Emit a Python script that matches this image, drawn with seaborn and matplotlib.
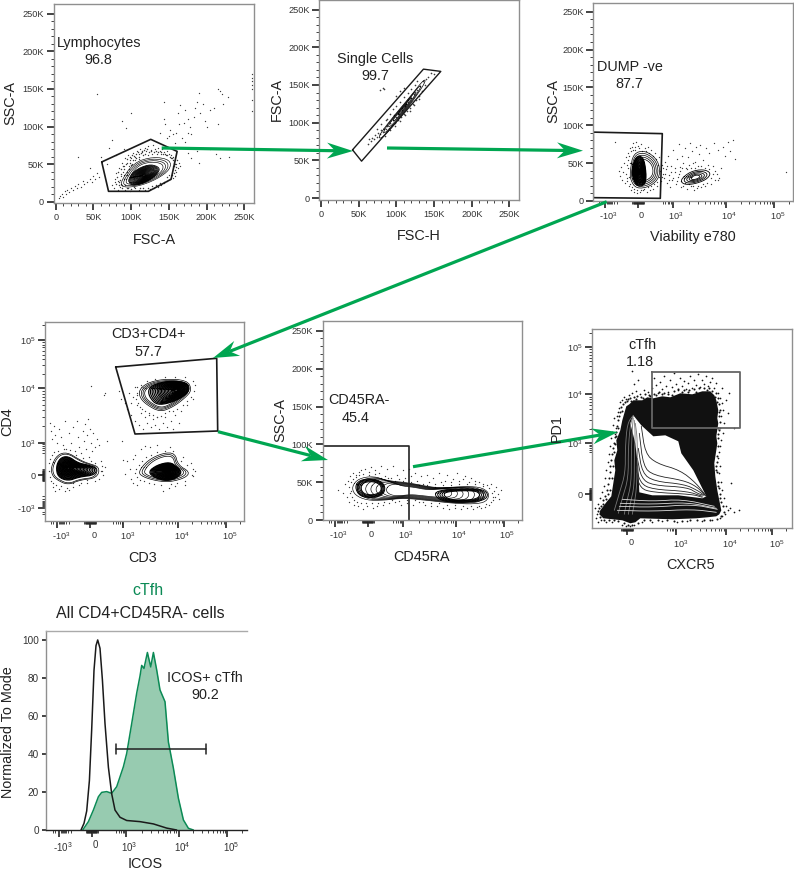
import numpy as np
import matplotlib
matplotlib.use("Agg")
import matplotlib.pyplot as plt
from matplotlib.transforms import ScaledTranslation
import seaborn as sns

W, H = 794, 872
K_TICKS = [0, 50, 100, 150, 200, 250]
K_LABELS = ["0", "50K", "100K", "150K", "200K", "250K"]
GREEN = "#00A651"
HIST_GREEN = "#0B8A55"
HIST_FILL = "#97CBB0"
TXT = "#222222"

# FSC/SSC panels are in thousands, log panels are in display channels
lymph_gate = [(61, 53), (126, 83), (161, 67), (153, 30), (123, 14), (70, 14)]
lymph_outer = [(85, 25), (103, 52), (129, 60), (152, 56), (152, 43), (134, 30), (111, 21), (90, 19)]
lymph_inner = [(96, 27), (103, 41), (123, 50), (136, 47), (138, 41), (127, 30), (112, 23), (101, 22)]
lymph_dots = [(4, 5), (6, 8), (8, 11), (10, 7), (12, 14), (15, 16), (14, 10), (18, 13), (20, 18), (23, 16),
              (25, 21), (28, 19), (30, 24), (33, 20), (36, 28), (38, 24), (42, 26), (45, 31), (48, 27), (50, 35),
              (52, 30), (55, 38), (58, 33), (55, 143), (30, 59), (45, 45), (60, 60), (70, 72), (75, 82), (88, 107),
              (93, 98), (100, 118), (90, 70), (80, 62), (68, 50), (143, 133), (145, 103), (143, 110), (150, 88),
              (152, 95), (160, 92), (162, 118), (163, 103), (165, 128), (170, 105), (172, 122), (175, 110),
              (178, 100), (180, 90), (168, 85), (172, 80), (175, 92), (183, 113), (185, 125), (188, 133),
              (190, 145), (192, 118), (195, 130), (198, 108), (200, 100), (205, 122), (210, 125), (215, 150),
              (218, 147), (220, 143), (222, 130), (228, 139), (215, 103), (205, 70), (218, 58), (212, 63),
              (230, 60), (190, 52), (175, 65), (180, 58), (155, 90), (147, 85), (138, 92), (158, 78), (165, 72),
              (188, 68), (196, 72), (260, 170), (260, 165), (260, 160), (260, 155), (260, 150), (260, 135), (260, 120),
              (75, 22), (78, 30), (80, 38), (77, 18), (82, 16), (84, 45), (86, 34), (88, 52), (90, 48), (92, 58),
              (94, 40), (96, 62), (98, 55), (100, 58), (102, 65), (105, 60), (108, 68), (110, 63), (112, 70),
              (115, 66), (118, 72), (120, 67), (123, 74), (126, 69), (129, 75), (132, 70), (135, 72), (138, 68),
              (141, 70), (144, 66), (147, 68), (150, 64), (153, 62), (156, 60), (158, 55), (160, 50), (162, 45),
              (160, 40), (163, 52), (165, 48), (158, 35), (155, 32), (150, 36), (148, 28), (143, 25), (140, 22),
              (135, 20), (130, 18), (125, 17), (118, 16), (110, 16), (105, 18), (98, 15), (92, 16), (85, 20),
              (79, 26), (83, 28), (87, 24), (89, 40), (93, 30), (91, 36), (97, 48), (95, 52), (101, 50), (105, 55),
              (110, 57), (155, 47), (157, 52), (153, 58), (146, 62), (140, 64), (134, 64), (128, 63), (122, 62)]
lymph_halo = [(80, 24), (81, 33), (83, 40), (84, 22), (85, 29), (86, 43), (87, 37), (88, 19), (89, 47), (90, 31),
              (91, 43), (92, 23), (93, 50), (94, 36), (95, 57), (96, 19), (97, 44), (98, 60), (99, 52), (100, 49),
              (101, 62), (103, 56), (104, 61), (106, 64), (107, 58), (109, 66), (111, 60), (113, 65), (114, 68),
              (116, 62), (117, 69), (119, 64), (121, 70), (124, 66), (127, 67), (130, 66), (133, 68), (136, 66),
              (139, 66), (142, 64), (145, 64), (148, 62), (151, 60), (154, 58), (156, 55), (158, 50), (159, 46),
              (158, 42), (157, 38), (154, 36), (152, 30), (147, 33), (144, 27), (138, 25), (133, 23), (128, 21),
              (122, 19), (116, 18), (112, 18), (104, 20), (100, 17), (95, 18), (88, 22), (84, 26), (157, 48), (161, 55)]

single_gate = [(42, 64), (136, 171), (159, 168), (54, 49)]
single_outer = [(76, 82), (96, 108), (118, 134), (137, 158), (139, 154), (120, 126), (100, 100), (80, 78)]
single_dots = [(62, 72), (64, 78), (66, 76), (68, 80), (70, 79), (72, 84), (74, 81), (76, 86), (78, 85), (80, 90),
               (82, 87), (84, 92), (86, 91), (88, 96), (90, 93), (92, 100), (94, 97), (96, 104), (98, 100),
               (100, 108), (102, 104), (104, 112), (106, 108), (108, 117), (110, 112), (112, 122), (114, 116),
               (116, 127), (118, 120), (120, 133), (122, 125), (124, 138), (126, 130), (128, 143), (130, 136),
               (132, 148), (134, 142), (136, 155), (138, 150), (140, 158), (142, 160), (88, 105), (92, 112),
               (95, 118), (100, 122), (105, 128), (110, 134), (105, 102), (112, 110), (118, 116), (124, 124),
               (130, 132), (85, 83), (92, 90), (98, 96), (115, 140), (120, 145), (125, 150), (128, 155),
               (84, 145), (82, 146), (78, 144), (100, 135), (105, 142), (110, 146), (150, 165), (146, 166), (75, 92),
               (80, 98), (86, 103), (113, 125), (116, 130), (108, 120), (103, 115), (97, 110)]

dump_gate = [(0, 91), (69, 89), (67, 3.5), (0, 4.4)]
dump_outer = [(37, 41), (40, 63), (52, 67), (65, 54), (67, 32), (57, 19), (43, 16), (37, 28)]
dump_inner = [(38, 37), (42, 59), (50, 59), (53, 37), (52, 21), (43, 19)]
dead_outer = [(87, 28), (97, 39), (110, 42), (118, 37), (113, 28), (100, 22), (90, 22)]
dump_dots = [(22, 78), (26, 40), (27, 33), (28, 45), (29, 28), (30, 38), (31, 50), (32, 24), (33, 58), (34, 30),
             (35, 64), (35, 44), (36, 20), (37, 70), (38, 14), (39, 72), (40, 76), (41, 12), (42, 68), (43, 78),
             (44, 10), (45, 73), (47, 12), (48, 75), (50, 14), (52, 70), (54, 12), (55, 72), (57, 15), (58, 68),
             (60, 16), (62, 63), (64, 20), (66, 58), (68, 26), (69, 48), (70, 36), (71, 30), (72, 52), (73, 42),
             (74, 24), (75, 60), (76, 35), (77, 18), (78, 46), (79, 28), (80, 68), (82, 38), (83, 22), (84, 55),
             (85, 32), (86, 75), (87, 45), (88, 18), (89, 60), (90, 50), (91, 30), (92, 70), (93, 44), (94, 16),
             (95, 58), (96, 48), (97, 76), (98, 20), (99, 66), (100, 50), (101, 14), (102, 52), (103, 72), (104, 17),
             (105, 46), (106, 62), (107, 74), (108, 18), (110, 54), (112, 20), (113, 70), (115, 48), (116, 64),
             (118, 22), (120, 46), (121, 76), (122, 28), (124, 36), (125, 68), (126, 30), (128, 44), (130, 72),
             (132, 60), (135, 78), (137, 66), (140, 80), (142, 55), (193, 38)]
dump_halo = [(33, 36), (34, 48), (34, 26), (35, 54), (36, 32), (36, 60), (37, 22), (37, 50), (38, 66), (39, 18), (39, 30),
             (40, 68), (41, 16), (42, 72), (44, 15), (46, 70), (48, 14), (49, 66), (51, 16), (53, 66), (55, 18),
             (56, 64), (58, 20), (60, 60), (61, 22), (63, 55), (64, 25), (65, 48), (66, 32), (67, 40), (69, 32), (70, 44),
             (72, 36), (74, 46), (76, 28), (78, 38), (80, 30), (82, 44), (84, 26), (86, 36), (87, 40), (88, 26),
             (89, 44), (90, 20), (92, 24), (94, 42), (96, 22), (98, 44), (100, 20), (102, 44), (105, 20), (108, 46),
             (110, 22), (112, 44), (114, 24), (116, 42), (118, 30), (120, 36), (122, 40), (125, 28)]

cd4_gate = [(70.7, 154), (171.7, 162.7), (172.7, 90), (90, 87)]
cd4_top_outer = [(94, 131), (102, 138), (118, 142), (142, 141), (147, 131), (140, 123), (128, 114), (115, 109), (102, 116), (95, 123)]
cd4_top_inner = [(103, 131), (108, 136), (122, 140), (142, 139), (145, 131), (138, 124), (125, 118), (112, 116), (105, 123)]
dn_outer = [(6, 54), (12, 66), (22, 69), (35, 61), (42, 58), (55, 54), (52, 43), (35, 41), (23, 36), (12, 41), (7, 46)]
dn_inner = [(11, 54), (15, 63), (23, 65), (33, 58), (43, 56), (52, 53), (50, 46), (34, 44), (23, 40), (13, 44)]
cd8_outer = [(93, 49), (103, 61), (118, 68), (130, 68), (133, 56), (145, 49), (140, 43), (125, 39), (112, 40), (98, 44)]
cd8_inner = [(103, 49), (112, 56), (125, 59), (132, 54), (137, 49), (132, 43), (122, 40), (110, 43)]
cd4_dots = [(5, 98), (6, 90), (7, 82), (9, 95), (10, 86), (12, 78), (14, 92), (16, 84), (18, 76), (20, 100), (21, 72),
            (24, 88), (26, 78), (28, 94), (30, 70), (32, 100), (33, 84), (34, 74), (36, 68), (38, 90), (39, 80),
            (40, 97), (41, 72), (42, 86), (43, 102), (44, 64), (45, 92), (46, 78), (47, 70), (48, 88), (50, 74),
            (52, 82), (54, 76), (56, 60), (60, 128), (59, 126), (62, 80), (46, 135), (8, 34), (10, 30), (14, 32),
            (20, 30), (24, 31), (28, 34), (34, 36), (42, 38), (50, 40), (58, 46), (60, 54), (57, 50), (77, 80),
            (82, 60), (85, 52), (80, 47), (78, 61), (88, 62), (90, 66), (86, 42), (88, 38), (92, 36), (96, 72),
            (100, 75), (105, 74), (112, 76), (125, 74), (118, 30), (124, 33), (130, 35), (140, 36), (148, 45),
            (150, 50), (146, 58), (138, 64), (74, 130), (76, 122), (80, 118), (82, 112), (84, 128), (86, 106),
            (88, 124), (90, 100), (92, 116), (94, 96), (96, 108), (98, 92), (100, 104), (102, 98), (104, 106),
            (106, 94), (108, 102), (110, 96), (112, 104), (114, 92), (118, 98), (120, 104), (122, 94), (126, 100),
            (128, 92), (130, 106), (134, 98), (136, 110), (142, 116), (148, 122), (90, 134), (86, 118), (92, 126)]
cd4_halo = [(4, 50), (4, 58), (5, 44), (5, 62), (6, 40), (7, 66), (8, 38), (9, 69), (11, 36), (13, 70), (16, 35), (19, 72),
            (22, 33), (25, 71), (28, 38), (31, 66), (36, 38), (38, 63), (42, 41), (46, 60), (50, 58), (54, 42),
            (56, 50), (57, 55), (90, 48), (91, 52), (92, 44), (94, 56), (95, 41), (97, 60), (99, 40), (101, 64),
            (104, 38), (106, 66), (109, 37), (112, 69), (116, 36), (120, 70), (126, 37), (128, 70), (132, 38),
            (136, 60), (140, 40), (142, 56), (147, 46), (148, 52), (92, 128), (91, 122), (92, 134), (93, 118),
            (95, 114), (97, 112), (100, 110), (104, 108), (108, 106), (112, 104), (116, 105), (120, 108), (124, 110),
            (128, 110), (132, 112), (138, 116), (142, 120), (146, 124), (149, 130), (150, 136), (148, 140),
            (140, 144), (130, 144), (120, 144), (110, 142), (102, 140), (96, 136)]

ra_gate_x = [0, 86.7, 86.7]
ra_gate_y = [98, 98, 0]
ra_outer = [(29, 44), (36, 55), (51, 58), (64, 52), (87, 49), (114, 42), (137, 44), (157, 44), (167, 36), (164, 24),
            (151, 21), (131, 22), (104, 26), (81, 29), (61, 26), (44, 26), (32, 33)]
ra_left_lobe = [(32, 44), (37, 53), (51, 55), (62, 48), (62, 35), (51, 29), (37, 31)]
ra_right_lobe = [(111, 33), (117, 40), (157, 42), (166, 35), (162, 26), (144, 23), (121, 24)]
ra_dots = [(15, 40), (20, 36), (22, 48), (24, 30), (25, 52), (26, 24), (27, 58), (28, 38), (30, 62), (31, 20),
           (33, 60), (35, 18), (36, 64), (38, 66), (40, 15), (42, 68), (44, 18), (46, 64), (48, 70), (50, 16),
           (52, 66), (54, 18), (56, 62), (58, 72), (60, 20), (62, 58), (64, 68), (66, 22), (68, 56), (70, 72),
           (72, 24), (74, 60), (76, 54), (78, 20), (80, 66), (82, 56), (84, 23), (86, 68), (88, 58), (90, 20),
           (92, 62), (94, 52), (96, 24), (98, 58), (100, 48), (102, 20), (104, 60), (106, 50), (108, 18), (110, 56),
           (112, 48), (114, 18), (116, 62), (118, 50), (120, 16), (122, 52), (124, 60), (126, 15), (128, 50),
           (130, 54), (132, 16), (134, 62), (136, 52), (138, 14), (140, 54), (142, 58), (144, 16), (146, 50),
           (148, 56), (150, 14), (152, 52), (154, 17), (156, 50), (158, 16), (160, 48), (162, 17), (164, 46),
           (166, 20), (168, 48), (170, 26), (171, 38), (172, 30), (173, 44), (175, 34), (176, 28), (178, 40)]
ra_halo = [(26, 44), (27, 36), (28, 50), (29, 30), (30, 54), (31, 27), (33, 57), (34, 24), (36, 60), (38, 22), (40, 61),
           (43, 22), (46, 60), (49, 22), (52, 61), (55, 22), (58, 56), (61, 24), (65, 55), (69, 26), (72, 52),
           (76, 25), (80, 52), (84, 26), (88, 50), (92, 26), (96, 46), (100, 24), (104, 46), (108, 22), (112, 44),
           (116, 22), (120, 46), (124, 20), (128, 46), (132, 20), (136, 47), (140, 19), (144, 47), (148, 18),
           (152, 47), (156, 19), (160, 45), (163, 21), (166, 42), (168, 24), (169, 36), (170, 30)]

tfh_mass = [(28, 98), (30, 108), (34, 122), (37, 124), (41, 128), (50, 128), (55, 131), (61, 130), (70, 132), (78, 131),
            (88, 135), (100, 134), (110, 137), (118, 137), (122, 133), (124, 128), (126, 118), (125, 110), (126, 105),
            (124, 92), (125, 85), (124, 78), (122, 65), (123, 52), (125, 38), (127, 28), (129, 18), (127, 14),
            (124, 12), (115, 11), (104, 10), (80, 9), (48, 10), (43, 6), (38, 5), (30, 8), (11, 10), (7, 14), (8, 18),
            (14, 26), (19, 32), (21, 45), (23, 58), (22, 68), (25, 78), (24, 88)]
tfh_hole = [(41, 113), (49, 103), (61, 92), (73, 93), (86, 87), (89, 75), (101, 58), (114, 32), (110, 30), (86, 33),
            (60, 33), (47, 36), (46, 60), (43, 85), (38, 105)]
tfh_gate_x = [60, 147.7, 147.7, 60, 60]
tfh_gate_y = [156, 156, 100, 100, 156]
tfh_curves = [
    [(49, 102), (53, 75), (64, 65), (88, 58), (104, 45), (114, 32)],
    [(47, 95), (51, 62), (61, 53), (91, 48), (104, 42), (113, 33)],
    [(46, 80), (50, 55), (62, 47), (92, 44), (105, 38), (112, 33)],
    [(45, 70), (49, 50), (60, 43), (95, 41), (105, 35), (111, 33)],
    [(44, 62), (48, 45), (60, 39), (95, 37), (110, 32)],
    [(44, 55), (48, 40), (60, 36), (100, 34), (110, 31)],
]
tfh_spike_lines = [
    [(41, 113), (35, 105), (33, 80), (33, 55), (27, 35), (22, 18)],
    [(41, 112), (38, 104), (36, 80), (36, 50), (30, 30), (26, 15)],
    [(41, 110), (40, 100), (39, 75), (39, 45), (34, 25), (32, 14)],
    [(42, 108), (43, 95), (42, 70), (42, 42), (38, 25), (36, 14)],
    [(43, 105), (45, 90), (45, 60), (44, 38), (42, 25), (40, 14)],
]
tfh_bar_lines = [
    [(30, 29), (60, 27), (90, 29), (122, 22)],
    [(28, 25), (60, 24), (95, 26), (124, 20)],
    [(27, 22), (60, 21), (100, 24), (125, 19)],
    [(25, 18), (60, 17), (100, 19), (124, 16)],
]
tfh_dots = [(5, 14), (3, 20), (6, 24), (4, 10), (8, 30), (10, 36), (12, 42), (13, 50), (14, 58), (16, 66), (17, 74),
            (18, 82), (19, 90), (20, 96), (21, 103), (22, 110), (23, 94), (24, 100), (25, 112), (26, 116), (27, 120),
            (28, 126), (30, 128), (32, 131), (34, 129), (37, 133), (40, 135), (44, 137), (48, 134), (52, 138),
            (56, 136), (46, 148), (40, 157), (42, 144), (60, 140), (62, 150), (64, 143), (66, 135), (68, 146),
            (70, 139), (72, 152), (74, 142), (76, 136), (78, 148), (80, 141), (82, 155), (84, 144), (86, 138),
            (88, 150), (90, 142), (92, 147), (94, 139), (96, 145), (98, 152), (100, 140), (102, 148), (104, 143),
            (106, 154), (108, 141), (110, 148), (112, 144), (114, 152), (116, 142), (118, 146), (120, 150),
            (122, 140), (124, 145), (126, 135), (128, 130), (130, 125), (131, 118), (129, 112), (132, 105), (128, 100),
            (131, 95), (129, 88), (128, 82), (127, 76), (126, 70), (128, 62), (127, 55), (129, 46), (130, 38),
            (132, 30), (134, 22), (136, 18), (133, 14), (130, 12), (128, 10), (142, 16), (147, 18), (139, 45),
            (138, 20), (142, 100), (136, 115), (134, 128), (137, 135), (130, 140), (20, 6), (14, 6), (9, 8), (6, 6),
            (50, 6), (60, 6), (70, 7), (85, 6), (95, 7), (110, 7), (120, 8), (30, 3), (34, 2), (38, 2), (42, 3),
            (12, 16), (16, 22), (18, 28), (24, 50), (25, 68), (26, 90)]
tfh_fringe = [(9, 22), (11, 28), (13, 32), (15, 38), (16, 44), (17, 50), (18, 56), (18, 62), (19, 68), (20, 74), (21, 80),
              (22, 85), (23, 91), (24, 96), (25, 102), (26, 108), (27, 112), (28, 116), (29, 121), (31, 124), (33, 126),
              (35, 127), (38, 130), (42, 131), (45, 132), (49, 131), (53, 134), (57, 133), (62, 134), (67, 136),
              (72, 135), (76, 134), (82, 137), (86, 139), (92, 138), (97, 138), (102, 139), (107, 140), (112, 140),
              (117, 140), (120, 137), (124, 135), (126, 130), (127, 124), (128, 118), (127, 112), (128, 106),
              (127, 98), (126, 90), (126, 82), (125, 72), (124, 62), (125, 56), (126, 46), (127, 40), (128, 34),
              (129, 26), (131, 22), (132, 16), (129, 12), (125, 9), (118, 8), (112, 8), (105, 8), (98, 8), (90, 7),
              (82, 7), (75, 8), (66, 8), (58, 8), (52, 8), (46, 5), (40, 3), (36, 3), (32, 5), (26, 7), (22, 8),
              (17, 8), (12, 8), (8, 11), (6, 17), (9, 16), (7, 20), (11, 24), (14, 29), (16, 34), (18, 38), (20, 50),
              (21, 62), (22, 76), (23, 84), (24, 92), (26, 100), (30, 117), (36, 129), (39, 127), (44, 129),
              (51, 130), (58, 132), (64, 133), (70, 134), (80, 133), (90, 136), (96, 136), (104, 136), (115, 138),
              (123, 131), (125, 126), (127, 116), (126, 100), (126, 94), (125, 66), (124, 58), (126, 42), (128, 30)]

hist_black_x = [35.3, 38.3, 41, 43.7, 46, 48.3, 50.3, 52, 54.3, 56.7, 59.3, 62.7, 66, 69.3, 74.3, 81, 94.3, 107.7, 121, 131]
hist_black_y = [0, 3.5, 10, 26, 53, 84, 97, 100, 95.6, 79, 56, 33, 19, 10.5, 6.7, 5, 4.4, 3.2, 1, 0]
hist_tfh_x = [37, 42.7, 47.7, 52.7, 56, 61, 66, 71, 77.7, 81, 86, 91, 94.3, 96, 98.3, 101.7, 105, 107.7, 111, 114.3,
              119.3, 122.7, 127.7, 132.7, 137.7, 142.7, 147.7]
hist_tfh_y = [0, 4.4, 10.5, 17.5, 19.8, 20.2, 19.3, 22.8, 33.3, 40.3, 56, 72, 81, 86.6, 85, 93.4, 85.8, 93.4, 84.2,
              73.7, 67.5, 46.3, 32.5, 16.7, 5.3, 0.9, 0]
icos_gate_x = [70, 160.3]
icos_gate_y = [42.5, 42.5]

DENSE = [0.94, 0.88, 0.82, 0.76, 0.7, 0.65, 0.6, 0.55, 0.5, 0.45, 0.4, 0.35, 0.3, 0.25, 0.2, 0.16, 0.12, 0.08]


def px_axes(fig, left, top, right, bottom):
    ax = fig.add_axes([left / W, 1 - bottom / H, (right - left) / W, (bottom - top) / H])
    for s in ax.spines.values():
        s.set_color("#8f8f8f")
        s.set_linewidth(1.0)
    ax.tick_params(which="major", length=5, width=1.1, color="#111111", labelsize=6.6, labelcolor="#333333", pad=2)
    ax.tick_params(which="minor", length=2.5, width=0.6, color="#222222")
    return ax


def linear_ticks(axis):
    axis.set_ticks(K_TICKS)
    axis.set_ticklabels(K_LABELS)
    axis.set_ticks(list(range(10, 260, 10)), minor=True)


def biex_ticks(axis, neg, zero, t3, t4, t5, has_neg=True):
    ticks = ([neg] if has_neg else []) + [zero, t3, t4, t5]
    labels = (["-$\\mathregular{10^3}$"] if has_neg else []) + ["0", "$\\mathregular{10^3}$", "$\\mathregular{10^4}$", "$\\mathregular{10^5}$"]
    axis.set_ticks(ticks)
    axis.set_ticklabels(labels)
    minors = []
    for lo, hi in [(t3, t4), (t4, t5)]:
        minors += [lo + np.log10(m) * (hi - lo) for m in range(2, 10)]
    minors += [t5 + np.log10(m) * (t5 - t4) for m in (2, 3)]
    minors += [t3 - np.log10(10 / m) * (t4 - t3) * 0.6 for m in (5, 6, 7, 8, 9)]
    minors += [zero + d for d in (-6, -5, -4.5, -4, -3.5, -3, -2.5, -2, -1.5, -1, -0.5, 0.5, 1, 1.5, 2, 2.5, 3, 3.5, 4, 4.5, 5, 6)]
    if has_neg:
        minors += [neg + d for d in (-6, -4, 2, 3, 4, 5, 6, 7, 9, 12)]
    axis.set_ticks(minors, minor=True)


def shift_labels(labels, dx=0, dy=0):
    fig = labels[0].figure
    for lab in labels:
        lab.set_transform(lab.get_transform() + ScaledTranslation(dx / 100, dy / 100, fig.dpi_scale_trans))


def smooth_ring(pts, closed=True, passes=2):
    # corner cutting so that the read-off outlines look like contour lines
    p = np.array(pts, dtype=float)
    for _ in range(passes):
        if closed:
            q = np.roll(p, -1, axis=0)
            p = np.column_stack([0.75 * p + 0.25 * q, 0.25 * p + 0.75 * q]).reshape(-1, 2)
        else:
            a, b = p[:-1], p[1:]
            mid = np.column_stack([0.75 * a + 0.25 * b, 0.25 * a + 0.75 * b]).reshape(-1, 2)
            p = np.vstack([p[0], mid, p[-1]])
    if closed:
        p = np.vstack([p, p[0]])
    return p


def line(ax, pts, color="black", lw=0.6, closed=False, smooth=True):
    p = smooth_ring(pts, closed) if smooth else np.array(pts, dtype=float)
    sns.lineplot(x=p[:, 0], y=p[:, 1], sort=False, estimator=None, color=color, linewidth=lw, ax=ax, legend=False)


def rings(ax, outline, scales, center=None, lw=0.5, color="black"):
    o = np.array(outline, dtype=float)
    c = o.mean(axis=0) if center is None else np.array(center, dtype=float)
    line(ax, o, color=color, lw=lw, closed=True)
    for s in scales:
        line(ax, c + s * (o - c), color=color, lw=lw, closed=True)


def dots(ax, pts, color="#3a3a3a", size=0.9):
    p = np.array(pts, dtype=float)
    sns.scatterplot(x=p[:, 0], y=p[:, 1], s=size, color=color, linewidth=0, ax=ax, legend=False)


def gate(ax, pts, color="#1a1a1a", lw=1.2):
    p = np.array(list(pts) + [pts[0]], dtype=float)
    sns.lineplot(x=p[:, 0], y=p[:, 1], sort=False, estimator=None, color=color, linewidth=lw, ax=ax, legend=False)


def finish(ax, xl, yl):
    ax.set_xlim(*xl)
    ax.set_ylim(*yl)
    ax.set_xlabel("")
    ax.set_ylabel("")


sns.set_theme(style="ticks")
plt.rcParams["font.family"] = ["Liberation Sans", "DejaVu Sans"]
plt.rcParams["mathtext.fontset"] = "custom"
plt.rcParams["mathtext.rm"] = "Liberation Sans"

fig = plt.figure(figsize=(W / 100, H / 100), dpi=100, facecolor="white")

# Lymphocytes
ax = px_axes(fig, 53.5, 4.5, 254, 203)
dots(ax, lymph_dots)
dots(ax, lymph_halo, size=1.1)
rings(ax, lymph_outer, [0.9, 0.8, 0.7], lw=0.45)
rings(ax, lymph_inner, DENSE, lw=0.6)
gate(ax, lymph_gate)
linear_ticks(ax.xaxis)
linear_ticks(ax.yaxis)
finish(ax, (-3, 263), (-1.5, 262))

# Single cells
ax = px_axes(fig, 319.3, 0.5, 519.3, 200)
dots(ax, single_dots, size=1.4)
rings(ax, single_outer, [0.8, 0.6, 0.4, 0.2], lw=0.5)
gate(ax, single_gate, lw=1.0)
linear_ticks(ax.xaxis)
linear_ticks(ax.yaxis)
finish(ax, (-2, 263), (-2.5, 262))

# Dump
ax = px_axes(fig, 593.3, 2.7, 793.3, 201)
dots(ax, dump_dots)
dots(ax, dump_halo)
rings(ax, dump_outer, [0.9, 0.8, 0.7, 0.6], lw=0.5)
rings(ax, dump_inner, DENSE, lw=0.8)
rings(ax, dead_outer, [0.8, 0.62, 0.45, 0.3], lw=0.6)
gate(ax, dump_gate)
biex_ticks(ax.xaxis, 11.7, 45, 79.3, 133, 181)
linear_ticks(ax.yaxis)
finish(ax, (0, 200), (0, 262))
shift_labels(ax.get_xticklabels(), dx=3)

# CD3 / CD4
ax = px_axes(fig, 45, 321.7, 244.3, 521)
dots(ax, cd4_dots)
dots(ax, cd4_halo)
rings(ax, cd4_top_outer, [0.92, 0.85, 0.78], lw=0.5)
rings(ax, cd4_top_inner, DENSE, center=(132, 131), lw=0.85)
rings(ax, dn_outer, [0.93], lw=0.5)
rings(ax, dn_inner, DENSE, center=(23, 53), lw=0.85)
rings(ax, cd8_outer, [0.9, 0.8], lw=0.5)
rings(ax, cd8_inner, DENSE, center=(123, 50), lw=0.85)
gate(ax, cd4_gate)
biex_ticks(ax.xaxis, 12.3, 45, 78.3, 132.7, 180.7)
biex_ticks(ax.yaxis, 12.7, 46, 78.3, 132.7, 181)
finish(ax, (0, 199.3), (0, 199.3))
shift_labels(ax.get_xticklabels(), dx=4)

# CD45RA
ax = px_axes(fig, 322.7, 321, 522.3, 520)
dots(ax, ra_dots)
dots(ax, ra_halo)
rings(ax, ra_outer, [0.93, 0.87, 0.8, 0.72, 0.64, 0.56, 0.48], center=(95, 38), lw=0.45)
rings(ax, ra_left_lobe, [0.93, 0.86, 0.78, 0.7], lw=0.7, center=(50, 42))
rings(ax, ra_right_lobe, [0.92, 0.84, 0.76, 0.68], lw=0.7, center=(140, 33))
line(ax, list(zip(ra_gate_x, ra_gate_y)), color="#222222", lw=1.2, smooth=False)
biex_ticks(ax.xaxis, 12.3, 45, 80, 133, 181)
linear_ticks(ax.yaxis)
finish(ax, (0, 199.6), (0, 263))
shift_labels(ax.get_xticklabels(), dx=3)

# PD1 / CXCR5
ax = px_axes(fig, 592.3, 329, 791.7, 528.3)
mass = np.array(tfh_mass)
hole = np.array(tfh_hole)
ax.fill(mass[:, 0], mass[:, 1], color="#111111", lw=0)
ax.fill(hole[:, 0], hole[:, 1], color="white", lw=0)
dots(ax, tfh_dots, color="#111111", size=1.5)
dots(ax, tfh_fringe, color="#111111", size=2.2)
for c in tfh_curves:
    line(ax, c, color="#222222", lw=0.6)
for c in tfh_spike_lines:
    line(ax, c, color="#777777", lw=0.6)
for c in tfh_bar_lines:
    line(ax, c, color="#dddddd", lw=0.6)
line(ax, list(zip(tfh_gate_x, tfh_gate_y)), color="#666666", lw=1.3, smooth=False)
biex_ticks(ax.xaxis, 0, 35, 84, 134, 180, has_neg=False)
biex_ticks(ax.yaxis, 0, 34, 85, 134, 181, has_neg=False)
finish(ax, (0, 199.4), (0, 199.3))
shift_labels(ax.get_xticklabels(), dx=4)

# ICOS histogram
ax = px_axes(fig, 45.7, 631, 246.7, 830)
ax.fill_between(hist_tfh_x, hist_tfh_y, color=HIST_FILL, lw=0)
sns.lineplot(x=hist_tfh_x, y=hist_tfh_y, sort=False, estimator=None, color=HIST_GREEN, linewidth=1.1, ax=ax, legend=False)
sns.lineplot(x=hist_black_x, y=hist_black_y, sort=False, estimator=None, color="#1a1a1a", linewidth=1.1, ax=ax, legend=False)
sns.lineplot(x=icos_gate_x, y=icos_gate_y, sort=False, estimator=None, color="#222222", linewidth=1.1, ax=ax, legend=False)
ax.plot([icos_gate_x[0]] * 2, [40, 45], color="#222222", lw=1.1)
ax.plot([icos_gate_x[1]] * 2, [40, 45], color="#222222", lw=1.1)
biex_ticks(ax.xaxis, 13, 46, 80, 133, 181.7)
ax.set_yticks([0, 20, 40, 60, 80, 100])
ax.tick_params(axis="y", which="major", length=3, labelsize=7.2)
ax.tick_params(axis="x", which="major", labelsize=7)
finish(ax, (0, 201), (0, 104.7))
ax.spines["top"].set_color("#aaaaaa")
ax.spines["right"].set_visible(False)
ax.spines["bottom"].set_color("#222222")
shift_labels(ax.get_xticklabels(), dx=4)

# figure layer for arrows and free text, in image pixels
over = fig.add_axes([0, 0, 1, 1], zorder=10)
over.set_xlim(0, W)
over.set_ylim(H, 0)
over.axis("off")
over.patch.set_alpha(0)


def arrow(x0, y0, x1, y1, length=26, half=8, notch=8):
    d = np.array([x1 - x0, y1 - y0], dtype=float)
    d /= np.hypot(*d)
    n = np.array([-d[1], d[0]])
    tip = np.array([x1, y1], dtype=float)
    back = tip - length * d
    inner = back + notch * d
    head = np.array([tip, back + half * n, inner, back - half * n])
    over.plot([x0, inner[0]], [y0, inner[1]], color=GREEN, lw=2.3, solid_capstyle="butt")
    over.fill(head[:, 0], head[:, 1], color=GREEN, lw=0)


arrow(161.7, 148, 353, 151)
arrow(387, 148, 583, 150.7)
arrow(606.7, 201.7, 213, 358)
arrow(218, 431.7, 328, 460)
arrow(413, 466.7, 618, 432)


def txt(x, y, s, size=10.4, color=TXT, rot=0):
    over.text(x, y, s, fontsize=size, color=color, rotation=rot, ha="center", va="center")


for x, y, s in [(99, 43, "Lymphocytes"), (98, 60, "96.8"), (375, 59, "Single Cells"), (375, 76, "99.7"),
                (630, 67, "DUMP -ve"), (629, 84, "87.7"), (148, 334, "CD3+CD4+"), (148, 352, "57.7"),
                (359, 400, "CD45RA-"), (356, 418, "45.4"), (642, 345, "cTfh"), (640, 362, "1.18"),
                (205, 678, "ICOS+ cTfh"), (205, 695, "90.2")]:
    txt(x, y, s)
for x, y, s in [(154, 240, "FSC-A"), (419, 236, "FSC-H"), (693, 237, "Viability e780"), (143, 558, "CD3"),
                (422, 557, "CD45RA"), (691, 565, "CXCR5"), (145, 864, "ICOS")]:
    txt(x, y, s, size=10.4)
for x, y, s in [(10, 103, "SSC-A"), (277, 99, "FSC-A"), (553, 101, "SSC-A"), (7, 422, "CD4"), (280, 420, "SSC-A"),
                (557, 428, "PD1"), (8, 732, "Normalized To Mode")]:
    txt(x, y, s, size=10.4, rot=90)
txt(148, 590, "cTfh", size=11.5, color=HIST_GREEN)
txt(140, 613, "All CD4+CD45RA- cells", size=11.5)

fig.savefig("out.png", dpi=100, facecolor="white")
